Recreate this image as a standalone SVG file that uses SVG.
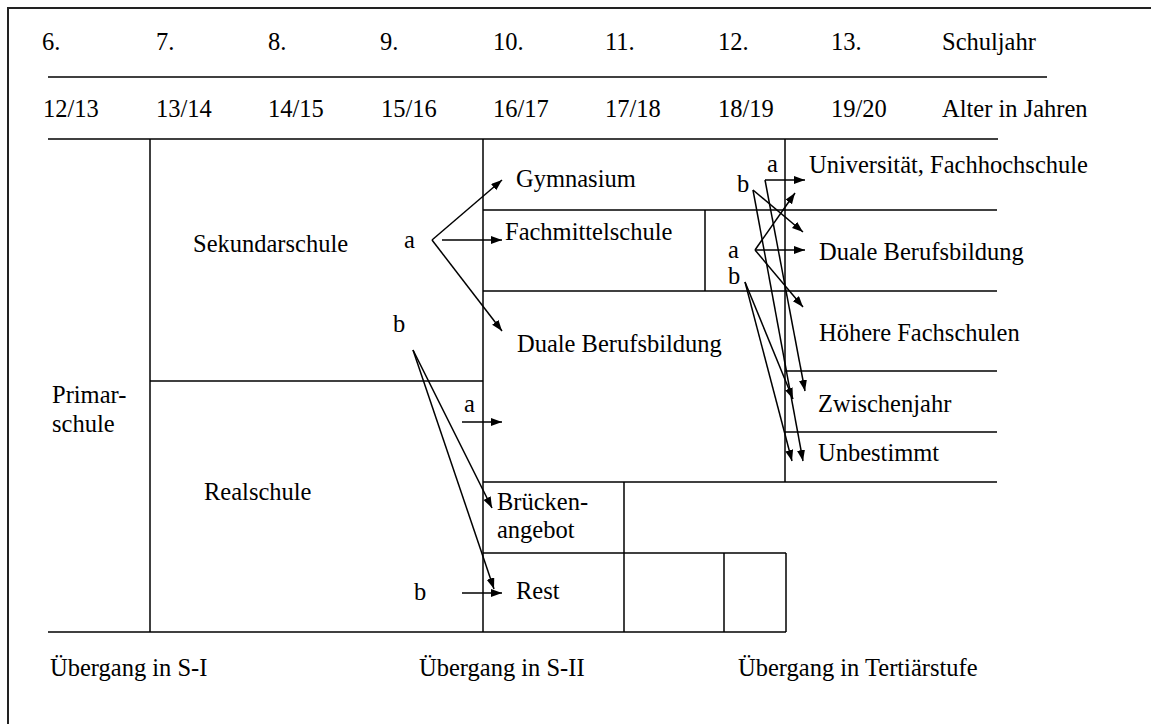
<svg xmlns="http://www.w3.org/2000/svg" width="1151" height="724" viewBox="0 0 1151 724">
<style>
text{font-family:"Liberation Serif","Times New Roman","DejaVu Serif",serif;font-size:24.5px;fill:#000}
.ln{stroke:#000;stroke-width:1.5;fill:none}
.ar{stroke:#000;stroke-width:1.5;fill:none;marker-end:url(#ah)}
</style>
<defs>
<marker id="ah" markerUnits="userSpaceOnUse" markerWidth="12" markerHeight="9" refX="11" refY="4" orient="auto">
<path d="M0,0 L11,4 L0,8 z" fill="#000"/>
</marker>
</defs>
<rect x="0" y="0" width="1151" height="724" fill="#fff"/>
<rect x="8" y="8" width="1200" height="800" fill="none" stroke="#222" stroke-width="2"/>

<g id="header">
<text x="42" y="50">6.</text><text x="156" y="50">7.</text><text x="268" y="50">8.</text><text x="380" y="50">9.</text>
<text x="493" y="50">10.</text><text x="605" y="50">11.</text><text x="718" y="50">12.</text><text x="831" y="50">13.</text>
<text x="942" y="50">Schuljahr</text>
<line class="ln" x1="48" y1="77" x2="1047" y2="77"/>
<text x="43" y="117">12/13</text><text x="156" y="117">13/14</text><text x="268" y="117">14/15</text><text x="381" y="117">15/16</text>
<text x="493" y="117">16/17</text><text x="605" y="117">17/18</text><text x="718" y="117">18/19</text><text x="831" y="117">19/20</text>
<text x="942" y="117">Alter in Jahren</text>
<line class="ln" x1="48" y1="139" x2="998" y2="139"/>
</g>

<g id="grid">
<line class="ln" x1="150" y1="139" x2="150" y2="632"/>
<line class="ln" x1="483" y1="139" x2="483" y2="632"/>
<line class="ln" x1="785" y1="139" x2="785" y2="482"/>
<line class="ln" x1="483" y1="210" x2="997" y2="210"/>
<line class="ln" x1="483" y1="291" x2="997" y2="291"/>
<line class="ln" x1="705" y1="210" x2="705" y2="291"/>
<line class="ln" x1="150" y1="381" x2="483" y2="381"/>
<line class="ln" x1="785" y1="371" x2="997" y2="371"/>
<line class="ln" x1="785" y1="432" x2="997" y2="432"/>
<line class="ln" x1="483" y1="482" x2="997" y2="482"/>
<line class="ln" x1="483" y1="553" x2="786" y2="553"/>
<line class="ln" x1="624" y1="482" x2="624" y2="632"/>
<line class="ln" x1="724" y1="553" x2="724" y2="632"/>
<line class="ln" x1="786" y1="553" x2="786" y2="632"/>
<line class="ln" x1="48" y1="632" x2="786" y2="632"/>
</g>

<g id="primarschule"><text x="52" y="403">Primar-</text><text x="52" y="432">schule</text></g>
<g id="sekundarschule"><text x="193" y="252">Sekundarschule</text></g>
<g id="realschule"><text x="204" y="500">Realschule</text></g>
<g id="gymnasium"><text x="516" y="187">Gymnasium</text></g>
<g id="fachmittelschule"><text x="505" y="240">Fachmittelschule</text></g>
<g id="duale1"><text x="517" y="352">Duale Berufsbildung</text></g>
<g id="brueckenangebot"><text x="497" y="510">Brücken-</text><text x="497" y="538">angebot</text></g>
<g id="rest"><text x="516" y="599">Rest</text></g>
<g id="universitaet"><text x="809" y="173">Universität, Fachhochschule</text></g>
<g id="duale2"><text x="819" y="260">Duale Berufsbildung</text></g>
<g id="hoehere"><text x="819" y="341">Höhere Fachschulen</text></g>
<g id="zwischenjahr"><text x="818" y="412">Zwischenjahr</text></g>
<g id="unbestimmt"><text x="818" y="461">Unbestimmt</text></g>

<g id="labels">
<text x="404" y="248">a</text>
<text x="393" y="332">b</text>
<text x="464" y="412">a</text>
<text x="414" y="600">b</text>
<text x="767" y="172">a</text>
<text x="737" y="192">b</text>
<text x="728" y="258">a</text>
<text x="728" y="284">b</text>
</g>

<g id="footer">
<text x="50" y="676">Übergang in S-I</text>
<text x="419" y="676">Übergang in S-II</text>
<text x="738" y="676">Übergang in Tertiärstufe</text>
</g>

<g id="connectors">
<line class="ar" x1="432" y1="240" x2="502" y2="180"/>
<line class="ar" x1="442" y1="240" x2="502" y2="240"/>
<line class="ar" x1="432" y1="240" x2="502" y2="331"/>
<line class="ar" x1="413" y1="350" x2="492" y2="508"/>
<line class="ar" x1="413" y1="350" x2="494" y2="589"/>
<line class="ar" x1="462" y1="422" x2="502" y2="422"/>
<line class="ar" x1="462" y1="593" x2="502" y2="593"/>
<line class="ar" x1="765" y1="180" x2="805" y2="180"/>
<line class="ar" x1="765" y1="180" x2="805" y2="391"/>
<line class="ar" x1="753" y1="190" x2="803" y2="232"/>
<line class="ar" x1="753" y1="190" x2="803" y2="461"/>
<line class="ar" x1="755" y1="250" x2="795" y2="193"/>
<line class="ar" x1="755" y1="250" x2="805" y2="250"/>
<line class="ar" x1="755" y1="250" x2="803" y2="307"/>
<line class="ar" x1="745" y1="282" x2="793" y2="399"/>
<line class="ar" x1="745" y1="282" x2="792" y2="461"/>
</g>
</svg>
